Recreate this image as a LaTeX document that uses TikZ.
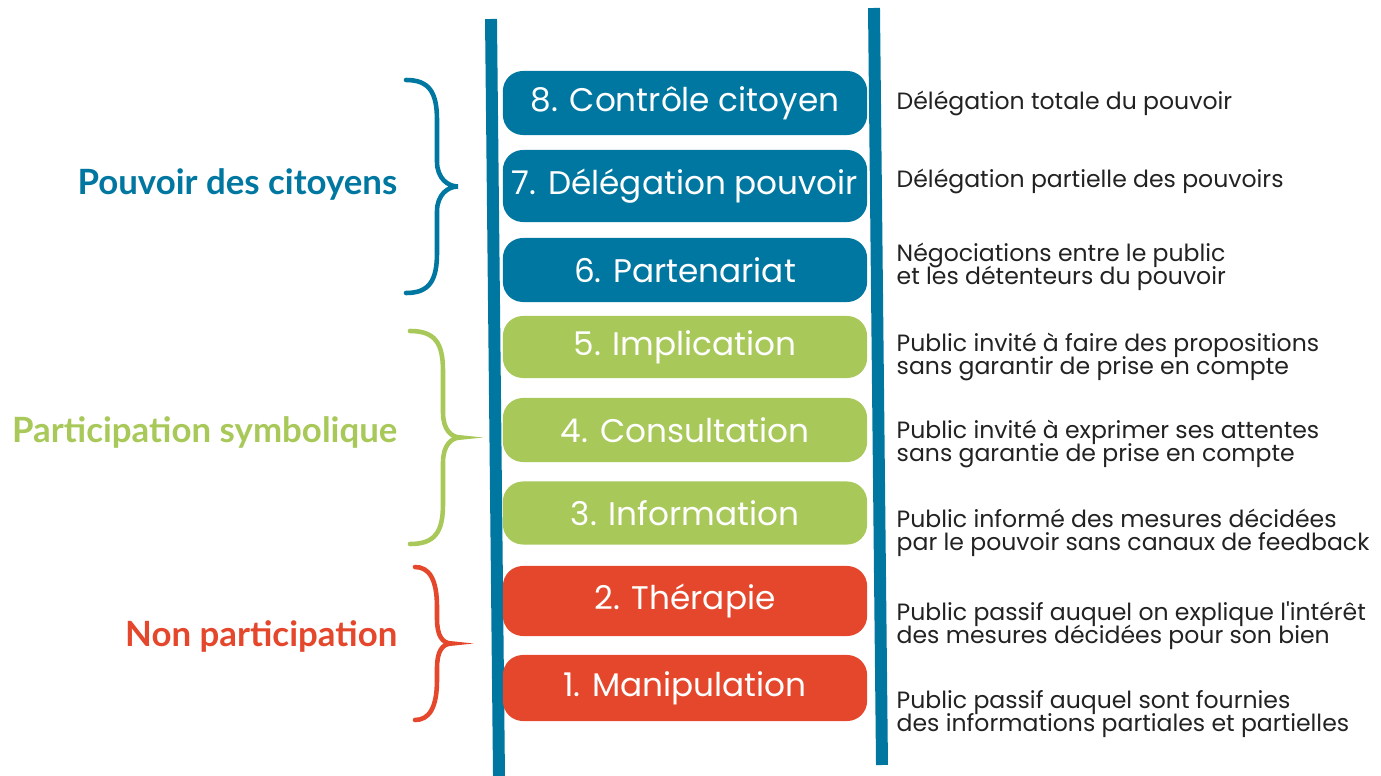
\documentclass[tikz,border=0pt]{standalone}
\usepackage{fontspec}
\setmainfont{Poppins}[Ligatures=TeXOff]
\newfontfamily\labelfont{Lato}

\definecolor{ladderblue}{HTML}{0077A0}
\definecolor{laddergreen}{HTML}{A8C95A}
\definecolor{ladderred}{HTML}{E4472C}
\definecolor{desctext}{HTML}{222222}

\newcommand{\tightlines}{\lineskiplimit=-10pt\relax}

% brace: colour, x of ends, x of spine, x of tip, y top, y bottom
\newcommand{\ladderbrace}[6]{%
  \pgfmathsetmacro{\ymid}{(#5+#6)/2}
  \draw[#1, line width=1.3pt, line cap=round]
    (#2,#5) .. controls ({#3-8},#5) and (#3,{#5+12}) .. (#3,{#5+40})
    -- (#3,{\ymid-25}) .. controls (#3,{\ymid-8}) and ({#4-10},\ymid) .. (#4,\ymid)
    .. controls ({#4-10},\ymid) and (#3,{\ymid+8}) .. (#3,{\ymid+25})
    -- (#3,{#6-40}) .. controls (#3,{#6-12}) and ({#3-8},#6) .. (#2,#6);
}

\tikzset{
  rung/.style={rounded corners=0.2cm, minimum width=3.64cm, minimum height=0.64cm,
    inner sep=0pt, text=white, font=\fontsize{9.3}{11}\selectfont},
  desc/.style={anchor=west, align=left, inner sep=0pt, text=desctext,
    font=\fontsize{6.7}{6.6}\selectfont\tightlines},
  level/.style={anchor=east, inner sep=0pt, font=\labelfont\bfseries\fontsize{9.9}{11}\selectfont}
}

\begin{document}
\begin{tikzpicture}[x=0.01cm, y=-0.01cm]
    \useasboundingbox (0,0) rectangle (1381,776);

    % Define the rails
    \coordinate (Ltop) at (491,19);
    \coordinate (Lbot) at (499,776);
    \coordinate (Rtop) at (874,8);
    \coordinate (Rbot) at (882,765);

    \draw[ladderblue, line width=3.4pt] (Ltop) -- (Lbot);
    \draw[ladderblue, line width=3.4pt] (Rtop) -- (Rbot);

    % Draw the rungs
    \node[rung, fill=ladderblue] (r8) at (685,103) {8. Contrôle citoyen};
    \node[rung, fill=ladderblue, minimum height=0.72cm] (r7) at (685,186) {7. Délégation pouvoir};
    \node[rung, fill=ladderblue] (r6) at (685,270) {6. Partenariat};
    \node[rung, fill=laddergreen, minimum height=0.62cm] (r5) at (685,347) {5. Implication};
    \node[rung, fill=laddergreen] (r4) at (685,430) {4. Consultation};
    \node[rung, fill=laddergreen, minimum height=0.63cm] (r3) at (685,513) {3. Information};
    \node[rung, fill=ladderred, minimum height=0.70cm] (r2) at (685,601) {2. Thérapie};
    \node[rung, fill=ladderred, minimum height=0.66cm] (r1) at (685,688) {1. Manipulation};

    % Descriptions
    \node[desc] (d8) at (896,103) {Délégation totale du pouvoir};
    \node[desc] (d7) at (896,181) {Délégation partielle des pouvoirs};
    \node[desc] (d6) at (896,267) {Négociations entre le public\\et les détenteurs du pouvoir};
    \node[desc] (d5) at (896,357) {Public invité à faire des propositions\\sans garantir de prise en compte};
    \node[desc] (d4) at (896,444) {Public invité à exprimer ses attentes\\sans garantie de prise en compte};
    \node[desc] (d3) at (896,533) {Public informé des mesures décidées\\par le pouvoir sans canaux de feedback};
    \node[desc] (d2) at (896,626) {Public passif auquel on explique l'intérêt\\des mesures décidées pour son bien};
    \node[desc] (d1) at (896,714) {Public passif auquel sont fournies\\des informations partiales et partielles};

    % Braces and levels
    \ladderbrace{ladderblue}{406}{437}{458}{80}{293}
    \ladderbrace{laddergreen}{410}{443}{461}{331}{544}
    \ladderbrace{ladderred}{415}{437}{452}{567}{720}

    \node[level, text=ladderblue] (lv3) at (398,184) {Pouvoir des citoyens};
    \node[level, text=laddergreen] (lv2) at (398,432) {Participation symbolique};
    \node[level, text=ladderred] (lv1) at (398,636) {Non participation};

\end{tikzpicture}
\end{document}
